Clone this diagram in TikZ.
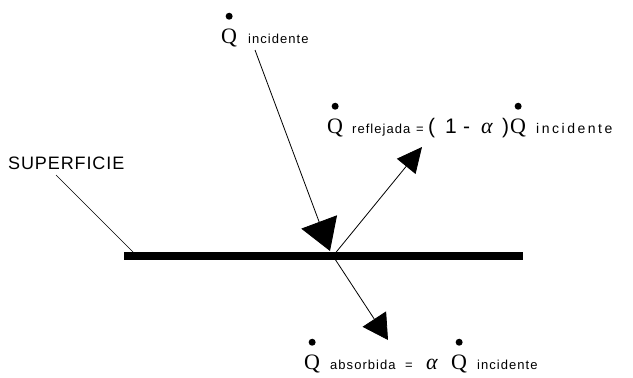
\documentclass[tikz,border=0pt]{standalone}
\usepackage{fontspec}
\setmainfont{Liberation Sans}
\newfontfamily\serifQ{Liberation Serif}
\newfontfamily\chica[LetterSpace=8]{Liberation Sans}
\newfontfamily\chicaancha[LetterSpace=18]{Liberation Sans}
\newfontfamily\rotulo[LetterSpace=5]{Liberation Sans}
\usetikzlibrary{arrows.meta, positioning}

\tikzset{
  letraQ/.style={font=\serifQ\fontsize{22}{22}\selectfont, inner sep=0pt, anchor=base west},
  subindice/.style={font=\chica\fontsize{13}{13}\selectfont, inner sep=0pt, anchor=base west},
  subancho/.style={subindice, font=\chicaancha\fontsize{14}{14}\selectfont},
  grande/.style={font=\fontsize{21}{21}\selectfont, inner sep=0pt, anchor=base west},
  alfa/.style={font=\serifQ\itshape\fontsize{22}{22}\selectfont, inner sep=0pt, anchor=base west},
  rayo/.style={line width=0.8pt},
}

\begin{document}
\begin{tikzpicture}[x=1pt, y=-1pt]
  \useasboundingbox (0,0) rectangle (633,378);

  % Superficie
  \coordinate (izq) at (124,256);
  \coordinate (der) at (523,256);
  \coordinate (impacto) at (333,256);
  \draw[line width=8pt] (izq) -- (der);

  \node[font=\rotulo\fontsize{18}{18}\selectfont, inner sep=0pt, anchor=base west] (sup) at (8,169) {SUPERFICIE};
  \coordinate (sup ini) at (56,175);
  \coordinate (sup fin) at (138,257);
  \draw[line width=0.6pt] (sup ini) -- (sup fin);

  % Rayos
  \coordinate (inc ini) at (255,50);
  \coordinate (inc fin) at (330,251);
  \coordinate (ref fin) at (422,147);
  \coordinate (abs fin) at (388,340);
  \draw[rayo, -{Triangle[length=31pt, width=38pt]}] (inc ini) -- (inc fin);
  \draw[rayo, -{Triangle[length=25pt, width=24pt]}] (impacto) -- (ref fin);
  \draw[rayo, -{Triangle[length=25pt, width=28pt]}] (impacto) -- (abs fin);

  % Q incidente
  \node[letraQ] (qinc) at (221,43) {Q};
  \node[subindice] (inc) at (248,43) {incidente};

  % Q reflejada
  \node[letraQ] (qref) at (327,133) {Q};
  \node[subindice] (ref) at (352,133) {reflejada};
  \node[subindice] (igref) at (416,133) {=};
  \node[grande] (pa) at (428,133) {(};
  \node[grande] (uno) at (445,133) {1};
  \node[grande] (menos) at (463,133) {-};
  \node[alfa] (alref) at (481,133) {α};
  \node[grande] (pc) at (502,133) {)};
  \node[letraQ] (qrefinc) at (510,133) {Q};
  \node[subancho] (refinc) at (536,133) {incidente};

  % Q absorbida
  \node[letraQ] (qabs) at (304,369) {Q};
  \node[subindice] (abs) at (330,369) {absorbida};
  \node[subindice] (igabs) at (405,369) {=};
  \node[alfa] (alabs) at (426,369) {α};
  \node[letraQ] (qabsinc) at (451,369) {Q};
  \node[subindice] (absinc) at (477,369) {incidente};

  % puntos
  \foreach \q in {qinc, qref, qrefinc, qabs, qabsinc}
    \fill ([yshift=12pt]\q.north) circle (3.5pt);
\end{tikzpicture}
\end{document}
